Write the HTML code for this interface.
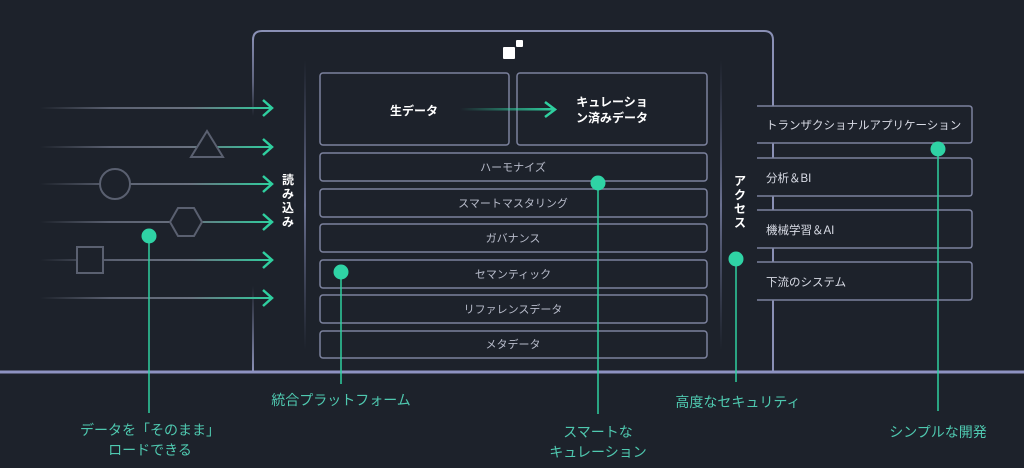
<!DOCTYPE html>
<html><head><meta charset="utf-8"><style>
html,body{margin:0;padding:0;background:#1d222b;}
svg{display:block;}
text{font-family:"Liberation Sans","Noto Sans CJK JP",sans-serif;}
</style></head><body>
<svg width="1024" height="468" viewBox="0 0 1024 468" xmlns="http://www.w3.org/2000/svg">
<defs>
<linearGradient id="lg" gradientUnits="userSpaceOnUse" x1="40" x2="272" y1="0" y2="0">
<stop offset="0" stop-color="#5a6070" stop-opacity="0"/>
<stop offset="0.3" stop-color="#5a6070"/>
<stop offset="0.65" stop-color="#6a7280"/>
<stop offset="1" stop-color="#2fcf9f"/>
</linearGradient>
<linearGradient id="ag" gradientUnits="userSpaceOnUse" x1="460" x2="554" y1="0" y2="0">
<stop offset="0" stop-color="#2fcf9f" stop-opacity="0"/>
<stop offset="1" stop-color="#2fcf9f"/>
</linearGradient>
<linearGradient id="vg" gradientUnits="userSpaceOnUse" x1="0" x2="0" y1="31" y2="371">
<stop offset="0" stop-color="#8a90b5"/>
<stop offset="0.15" stop-color="#8a90b5" stop-opacity="0.6"/>
<stop offset="0.25" stop-color="#8a90b5" stop-opacity="0"/>
<stop offset="0.75" stop-color="#8a90b5" stop-opacity="0"/>
<stop offset="1" stop-color="#8a90b5"/>
</linearGradient>
<linearGradient id="iv" gradientUnits="userSpaceOnUse" x1="0" x2="0" y1="60" y2="350">
<stop offset="0" stop-color="#5a6080" stop-opacity="0"/>
<stop offset="0.5" stop-color="#6a7090"/>
<stop offset="1" stop-color="#5a6080" stop-opacity="0"/>
</linearGradient>
</defs>

<path d="M253 40 Q253 31 262 31 H764 Q773 31 773 40 V371" fill="none" stroke="#8a90b5" stroke-width="2"/>
<line x1="253" y1="40" x2="253" y2="371" stroke="url(#vg)" stroke-width="2"/>
<line x1="305" y1="60" x2="305" y2="350" stroke="url(#iv)" stroke-width="2"/>
<line x1="721" y1="60" x2="721" y2="350" stroke="url(#iv)" stroke-width="2"/>
<line x1="0" y1="372" x2="1024" y2="372" stroke="#8e93c2" stroke-width="3"/>

<rect x="503" y="47" width="12" height="12" fill="#fff" rx="1"/>
<rect x="516" y="40" width="7" height="7" fill="#fff" rx="1"/>

<g fill="none" stroke="#7c829e" stroke-width="1.5">
<rect x="320" y="73" width="189" height="72" rx="3"/>
<rect x="517" y="73" width="190" height="72" rx="3"/>
<rect x="320" y="153" width="387" height="28" rx="3"/>
<rect x="320" y="189" width="387" height="28" rx="3"/>
<rect x="320" y="224" width="387" height="28" rx="3"/>
<rect x="320" y="260" width="387" height="28" rx="3"/>
<rect x="320" y="295" width="387" height="28" rx="3"/>
<rect x="320" y="331" width="387" height="27" rx="3"/>
</g>
<rect x="460" y="108" width="94" height="2.5" fill="url(#ag)"/>
<path d="M545 102 L555 109.5 L545 117" fill="none" stroke="#2fcf9f" stroke-width="2.5"/>
<g fill="#fff" font-weight="bold" font-size="12" text-anchor="middle">
<text x="414" y="115">生データ</text>
<text x="612" y="106">キュレーショ</text>
<text x="612" y="122">ン済みデータ</text>
</g>
<g fill="#b8bccb" font-size="11" text-anchor="middle">
<text x="513" y="171">ハーモナイズ</text>
<text x="513" y="207">スマートマスタリング</text>
<text x="513" y="242">ガバナンス</text>
<text x="513" y="278">セマンティック</text>
<text x="513" y="313">リファレンスデータ</text>
<text x="513" y="348">メタデータ</text>
</g>

<g stroke-width="2" fill="none" stroke="url(#lg)">
<line x1="40" y1="108" x2="272" y2="108"/>
<line x1="40" y1="147" x2="272" y2="147"/>
<line x1="40" y1="184" x2="272" y2="184"/>
<line x1="40" y1="222" x2="272" y2="222"/>
<line x1="40" y1="260" x2="272" y2="260"/>
<line x1="40" y1="298" x2="272" y2="298"/>
</g>
<g fill="none" stroke="#2fcf9f" stroke-width="2.5">
<path d="M263 100 L272 108 L263 116"/>
<path d="M263 139 L272 147 L263 155"/>
<path d="M263 176 L272 184 L263 192"/>
<path d="M263 214 L272 222 L263 230"/>
<path d="M263 252 L272 260 L263 268"/>
<path d="M263 290 L272 298 L263 306"/>
</g>
<g fill="#1d222b" stroke="#5a6070" stroke-width="2">
<polygon points="207,131 223,157 191,157"/>
<circle cx="115" cy="184" r="15"/>
<polygon points="178,208 194,208 202,222 194,236 178,236 170,222"/>
<rect x="77" y="247" width="26" height="26"/>
</g>
<g fill="#fff" font-weight="bold" font-size="12" text-anchor="middle">
<text x="288" y="184">読</text><text x="288" y="198">み</text><text x="288" y="212">込</text><text x="288" y="226">み</text>
<text x="740" y="185">ア</text><text x="740" y="199">ク</text><text x="740" y="213">セ</text><text x="740" y="227">ス</text>
</g>

<g fill="#1d222b" stroke="#7c829e" stroke-width="1.5">
<path d="M757 106 H969 Q972 106 972 109 V140 Q972 143 969 143 H757"/>
<path d="M757 158 H969 Q972 158 972 161 V193 Q972 196 969 196 H757"/>
<path d="M757 210 H969 Q972 210 972 213 V245 Q972 248 969 248 H757"/>
<path d="M757 262 H969 Q972 262 972 265 V297 Q972 300 969 300 H757"/>
</g>
<g fill="#d8dbe5" font-size="11.5">
<text x="766" y="129">トランザクショナルアプリケーション</text>
<text x="766" y="182">分析＆BI</text>
<text x="766" y="234">機械学習＆AI</text>
<text x="766" y="286">下流のシステム</text>
</g>

<g stroke="#2fcf9f" stroke-width="1.5">
<line x1="149" y1="236" x2="149" y2="413"/>
<line x1="341" y1="272" x2="341" y2="384"/>
<line x1="598" y1="183" x2="598" y2="414"/>
<line x1="736" y1="259" x2="736" y2="382"/>
<line x1="938" y1="149" x2="938" y2="411"/>
</g>
<g fill="#2fd3a5">
<circle cx="149" cy="236" r="7.5"/>
<circle cx="341" cy="272" r="7.5"/>
<circle cx="598" cy="183" r="7.5"/>
<circle cx="736" cy="259" r="7.5"/>
<circle cx="938" cy="149" r="7.5"/>
</g>
<g fill="#4fc9b0" font-size="14" text-anchor="middle">
<text x="150" y="435">データを「そのまま」</text>
<text x="150" y="455">ロードできる</text>
<text x="341" y="405">統合プラットフォーム</text>
<text x="598" y="437">スマートな</text>
<text x="598" y="457">キュレーション</text>
<text x="738" y="407">高度なセキュリティ</text>
<text x="938" y="437">シンプルな開発</text>
</g>
</svg>
</body></html>
